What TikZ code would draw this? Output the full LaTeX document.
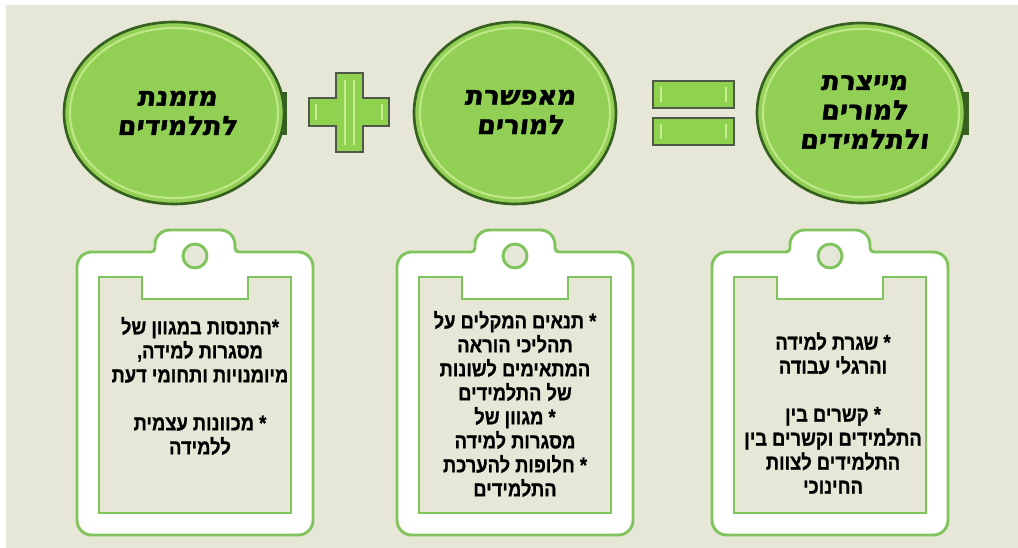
\documentclass[tikz,border=0pt]{standalone}
\usepackage{fontspec}
\TeXXeTstate=1
\newfontfamily\hebb[Script=Hebrew, FakeStretch=0.86, FakeBold=0.8]{Liberation Sans}
\newfontfamily\hebhand[Script=Hebrew, FakeSlant=0.12, FakeBold=1.5]{DejaVu Sans}
\definecolor{bg}{HTML}{E7E7D7}
\definecolor{ellfill}{HTML}{92CF55}
\definecolor{ellrim}{HTML}{35601F}
\definecolor{elllight}{HTML}{C9EE92}
\definecolor{clipgreen}{HTML}{80C45E}
\definecolor{signfill}{HTML}{8FD24F}
\definecolor{signrim}{HTML}{50584A}
\tikzset{
  ell/.style={fill=ellfill, draw=ellrim, line width=2},
  ellhi/.style={draw=elllight, line width=1.6, opacity=0.8},
  sign/.style={fill=signfill, draw=signrim, line width=2},
  signhi/.style={draw=elllight, line width=1.2},
  clipout/.style={fill=white, draw=clipgreen, line width=2.2},
  clipin/.style={fill=bg, draw=clipgreen, line width=2.2},
  cliptext/.style={font=\hebb\bfseries\fontsize{16}{18}\selectfont, align=center, text=black},
  elltext/.style={font=\hebhand\bfseries\fontsize{20}{22}\selectfont, align=center, text=black},
}
\begin{document}
\begin{tikzpicture}[x=0.75pt,y=-0.75pt]
\useasboundingbox (0,0) rectangle (1018,548);
\fill[white] (0,0) rectangle (1018,548);
\fill[bg] (6,5) rectangle (1018,548);

% ellipses
\fill[ellrim] (281,92) rectangle (287,135);
\fill[ellrim] (963,92) rectangle (969,135);
\path[ell] (174,113) ellipse [x radius=110, y radius=91];
\draw[ellhi] (174,113) ellipse [x radius=104, y radius=85];
\path[ell] (515,113) ellipse [x radius=101, y radius=91];
\draw[ellhi] (515,113) ellipse [x radius=95, y radius=85];
\path[ell] (861,113) ellipse [x radius=104, y radius=90];
\draw[ellhi] (861,113) ellipse [x radius=98, y radius=84];

\node[elltext] (e1) at (177,113) {\beginR מזמנת\endR\\\beginR לתלמידים\endR};
\node[elltext] (e2) at (520,112) {\beginR מאפשרת\endR\\\beginR למורים\endR};
\node[elltext] (e3) at (864,112) {\beginR מייצרת\endR\\\beginR למורים\endR\\\beginR ולתלמידים\endR};

% plus sign
\path[sign] (336,73) -- (363,73) -- (363,98) -- (389,98) -- (389,126) -- (363,126) -- (363,152) -- (336,152) -- (336,126) -- (309,126) -- (309,98) -- (336,98) -- cycle;
\draw[signhi] (345,80) -- (345,145) (354,80) -- (354,145);
\draw[signhi] (316,104) -- (316,120) (382,104) -- (382,120);
% equals sign
\path[sign] (653,81) rectangle (734,108);
\path[sign] (653,118) rectangle (734,145);
\draw[signhi] (661,87) -- (661,102) (726,87) -- (726,102);
\draw[signhi] (661,124) -- (661,139) (726,124) -- (726,139);

% clipboards
\foreach \cx/\nm in {195/c1,515/c2,830/c3}{
  \begin{scope}[shift={(\cx,0)}]
    \path[clipout] (0,535) [rounded corners=11pt] -- (-118,535) -- (-118,252) [rounded corners=3pt] -- (-40,252) [rounded corners=11pt] -- (-40,230) -- (40,230) [rounded corners=3pt] -- (40,252) [rounded corners=11pt] -- (118,252) -- (118,535) [sharp corners] -- cycle;
    \path[clipin] (-96,277) -- (-53,277) -- (-53,299) -- (53,299) -- (53,277) -- (96,277) -- (96,513) -- (-96,513) -- cycle;
    \draw[clipgreen, line width=2.2, fill=bg] (0,256) circle (12);
  \end{scope}
}

\node[cliptext] (t1) at (200,386) {\beginR *התנסות במגוון של\endR\\\beginR מסגרות למידה,\endR\\\beginR מיומנויות ותחומי דעת\endR\\[18pt]\beginR * מכוונות עצמית\endR\\\beginR ללמידה\endR};
\node[cliptext] (t2) at (515,404) {\beginR * תנאים המקלים על\endR\\\beginR תהליכי הוראה\endR\\\beginR המתאימים לשונות\endR\\\beginR של התלמידים\endR\\\beginR * מגוון של\endR\\\beginR מסגרות למידה\endR\\\beginR * חלופות להערכת\endR\\\beginR התלמידים\endR};
\node[cliptext] (t3) at (833,413) {\beginR * שגרת למידה\endR\\\beginR והרגלי עבודה\endR\\[18pt]\beginR * קשרים בין\endR\\\beginR התלמידים וקשרים בין\endR\\\beginR התלמידים לצוות\endR\\\beginR החינוכי\endR};
\end{tikzpicture}
\end{document}
